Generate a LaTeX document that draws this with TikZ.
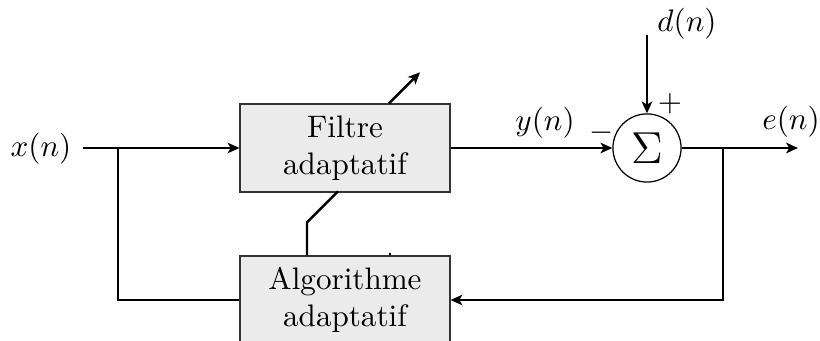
\documentclass[tikz,border=0pt]{standalone}
\usetikzlibrary{arrows.meta,calc}
\definecolor{boxfill}{RGB}{235,235,235}
\begin{document}
\begin{tikzpicture}[x=0.3215pt,y=-0.3215pt,
  blockbox/.style={draw=black!80,thin,fill=boxfill,minimum width=67.5pt,minimum height=28.3pt,align=center,inner sep=0pt},
  sumnode/.style={draw,thin,circle,minimum size=21.9pt,inner sep=0pt},
  lbl/.style={inner sep=0pt},
  conn/.style={thick},
  arr/.style={thick,-{Stealth[length=3.8pt,width=3.4pt,inset=1pt]}}]
\useasboundingbox (0,0) rectangle (820,341);
\node[lbl] (xn) at (41,149) {$x(n)$};
\coordinate (xin) at (83,148);
\coordinate (j1) at (118,148);
\coordinate (dtop) at (647,35);
\coordinate (eout) at (798,148);
\coordinate (j2) at (723,148);
\node[blockbox] (f) at (345,148) {Filtre\\adaptatif};
\node[blockbox] (a) at (345,300) {Algorithme\\adaptatif};
\node[sumnode] (s) at (647,148) {\Large$\Sigma$};
\node[lbl] (yn) at (545,123) {$y(n)$};
\node[lbl] (dn) at (687,24) {$d(n)$};
\node[lbl] (en) at (791,122) {$e(n)$};
\node[lbl] (minus) at (602,133) {$-$};
\node[lbl] (plus) at (670,104) {$+$};
\draw[arr] (xin) -- (f.west);
\draw[conn] (j1) |- (a.west);
\draw[arr] (f.east) -- (s.west);
\draw[arr] (dtop) -- (s.north);
\draw[arr] (s.east) -- (eout);
\draw[arr] (j2) |- (a.east);
\draw[conn] ($(a.north)+(-38,0)$) -- ++(0,-33) -- ++(31,-31);
\draw[arr] ($(f.north)+(44,0)$) -- ++(31,-31);
\draw[semithick] ($(a.north)+(45,0)$) -- ++(0,-2);
\end{tikzpicture}
\end{document}
